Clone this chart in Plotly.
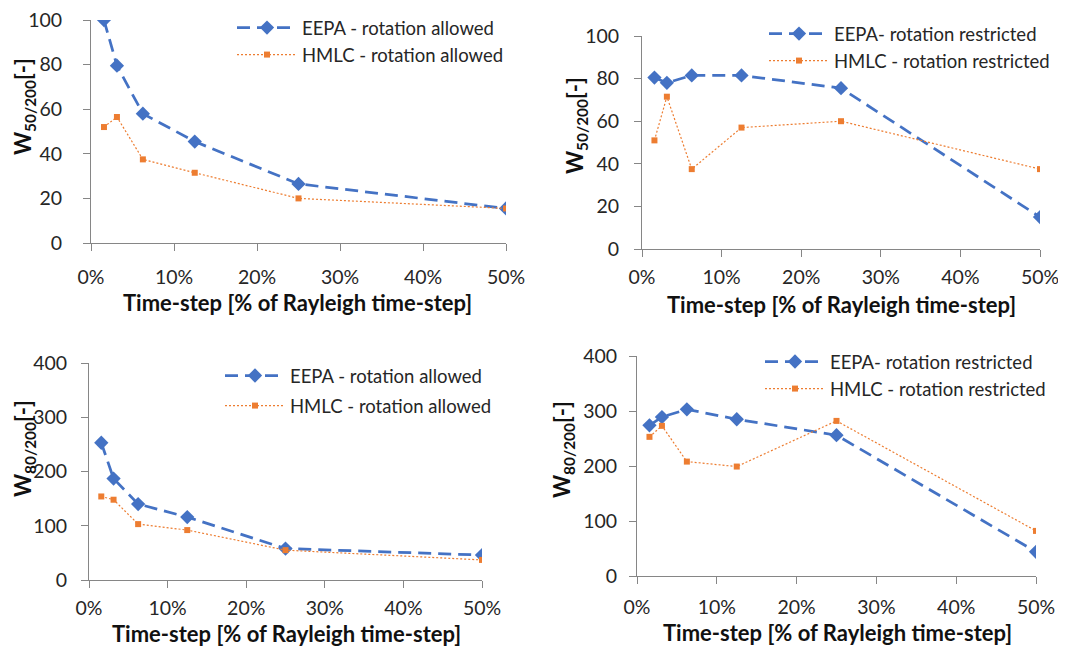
import plotly.graph_objects as go

# ---- data ----
timestep = [0.015625, 0.03125, 0.0625, 0.125, 0.25, 0.5]

w50_eepa_allowed = [100, 79.5, 58, 45.5, 26.5, 15.5]
w50_hmlc_allowed = [52, 56.5, 37.5, 31.5, 20, 15.5]

w50_eepa_restricted = [80.5, 78, 81.5, 81.5, 75.5, 15]
w50_hmlc_restricted = [51, 71.5, 37.5, 57, 60, 37.5]

w80_eepa_allowed = [253, 187, 140, 116, 58, 46]
w80_hmlc_allowed = [154, 148, 103, 92, 55, 37]

w80_eepa_restricted = [274, 289, 303, 285, 256, 44]
w80_hmlc_restricted = [253, 273, 208, 199, 282, 82]

x_tickvals = [0, 0.1, 0.2, 0.3, 0.4, 0.5]
x_ticktext = ["0%", "10%", "20%", "30%", "40%", "50%"]

names_allowed = ["EEPA - rotation allowed", "HMLC - rotation allowed"]
names_restricted = ["EEPA- rotation restricted", "HMLC - rotation restricted"]

x_title = "Time-step [% of Rayleigh time-step]"
y_title_50 = "<b>W<sub>50/200</sub>[-]</b>"
y_title_80 = "<b>W<sub>80/200</sub>[-]</b>"

BLUE = "#4472C4"
ORANGE = "#ED7D31"
AXIS = "#868686"
TXT = "#262626"
FONT = "Lato"
OFF = 8                      # page body margin
W, H = 1066 - OFF, 646 - OFF  # figure size

fig = go.Figure()

def px_x(v):
    return (v - OFF) / W

def px_y(v):
    return 1 - (v - OFF) / H

panels = [
    dict(e=w50_eepa_allowed, h=w50_hmlc_allowed, names=names_allowed,
         xd=(91, 506), yd=(20, 243), yr=100, dt=20, leg=(232, 9), gap=0, so=17, xso=10,
         yt=y_title_50, ytp=(24, 107), xtp=(297, 302)),
    dict(e=w50_eepa_restricted, h=w50_hmlc_restricted, names=names_restricted,
         xd=(642, 1040), yd=(36, 249), yr=100, dt=20, leg=(764, 15), gap=0, so=11, xso=4,
         yt=y_title_50, ytp=(576, 126), xtp=(841, 304)),
    dict(e=w80_eepa_allowed, h=w80_hmlc_allowed, names=names_allowed,
         xd=(89, 482), yd=(363, 580), yr=400, dt=100, leg=(220, 357), gap=3, so=10, xso=4,
         yt=y_title_80, ytp=(24, 449), xtp=(286, 633)),
    dict(e=w80_eepa_restricted, h=w80_hmlc_restricted, names=names_restricted,
         xd=(637, 1036), yd=(356, 576), yr=400, dt=100, leg=(760, 343), gap=0, so=8, xso=7,
         yt=y_title_80, ytp=(563, 450), xtp=(837, 632)),
]

for i, p in enumerate(panels, start=1):
    xa = "x" if i == 1 else f"x{i}"
    ya = "y" if i == 1 else f"y{i}"
    lg = "legend" if i == 1 else f"legend{i}"
    fig.add_trace(go.Scatter(
        x=timestep, y=p["e"], name=p["names"][0], xaxis=xa, yaxis=ya, legend=lg,
        mode="lines+markers", legendgroup=f"e{i}",
        line=dict(color=BLUE, width=2.75, dash="13px,7px"),
        marker=dict(symbol="diamond", size=11, color=BLUE),
    ))
    fig.add_trace(go.Scatter(
        x=timestep, y=p["h"], name=p["names"][1], xaxis=xa, yaxis=ya, legend=lg,
        mode="lines+markers", legendgroup=f"h{i}",
        line=dict(color=ORANGE, width=1.2, dash="2px,2px"),
        marker=dict(symbol="square", size=6, color=ORANGE),
    ))
    xk = "xaxis" if i == 1 else f"xaxis{i}"
    yk = "yaxis" if i == 1 else f"yaxis{i}"
    fig.layout[xk] = dict(
        domain=[px_x(p["xd"][0]), px_x(p["xd"][1])], anchor=ya, automargin=False,
        range=[0, 0.5], tickvals=x_tickvals, ticktext=x_ticktext,
        showgrid=False, zeroline=False, showline=True, linecolor=AXIS, linewidth=1,
        ticks="outside", ticklen=7, tickcolor=AXIS, ticklabelstandoff=p["xso"],
        ticklabeloverflow="allow",
        tickfont=dict(family=FONT, size=19.5, color=TXT),
    )
    fig.layout[yk] = dict(
        domain=[px_y(p["yd"][1]), px_y(p["yd"][0])], anchor=xa, automargin=False,
        range=[0, p["yr"]], dtick=p["dt"], tick0=0,
        showgrid=False, zeroline=False, showline=True, linecolor=AXIS, linewidth=1,
        ticks="outside", ticklen=7, tickcolor=AXIS, ticklabelstandoff=p["so"],
        ticklabeloverflow="allow",
        tickfont=dict(family=FONT, size=19.5, color=TXT),
    )
    fig.layout[lg] = dict(
        x=px_x(p["leg"][0]), y=px_y(p["leg"][1]), xanchor="left", yanchor="top",
        bgcolor="rgba(0,0,0,0)", traceorder="grouped", tracegroupgap=p["gap"],
        font=dict(family=FONT, size=18.5, color=TXT),
        itemwidth=60,
    )
    fig.add_annotation(
        x=px_x(p["ytp"][0]), y=px_y(p["ytp"][1]), xref="paper", yref="paper",
        xanchor="center", yanchor="middle",
        text=p["yt"], textangle=-90, showarrow=False,
        font=dict(family=FONT, size=22, color="#111111"),
    )
    fig.add_annotation(
        x=px_x(p["xtp"][0]), y=px_y(p["xtp"][1]), xref="paper", yref="paper",
        xanchor="center", yanchor="middle",
        text=f"<b>{x_title}</b>", showarrow=False,
        font=dict(family=FONT, size=22, color="#111111"),
    )

fig.update_layout(
    width=W, height=H,
    margin=dict(l=0, r=0, t=0, b=0, autoexpand=False),
    paper_bgcolor="white", plot_bgcolor="white",
    showlegend=True,
)

fig.write_html("out.html")
